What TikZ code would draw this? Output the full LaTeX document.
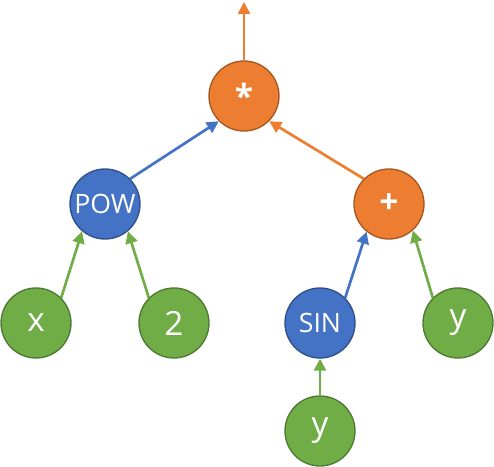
\documentclass[tikz,border=0pt]{standalone}
\usepackage{fontspec}
\setmainfont{Open Sans}
\usetikzlibrary{arrows.meta}
\definecolor{myorange}{HTML}{ED7D31}
\definecolor{myblue}{HTML}{4472C4}
\definecolor{mygreen}{HTML}{70AD47}
\tikzset{
  vtx/.style={circle,minimum size=52.5pt,inner sep=0pt,line width=1pt,text=white},
  opnode/.style={vtx,fill=myorange,draw=myorange!70!black,font=\fontsize{25}{25}\selectfont\bfseries},
  fnnode/.style={vtx,fill=myblue,draw=myblue!70!black,font=\fontsize{20}{20}\selectfont},
  leaf/.style={vtx,fill=mygreen,draw=mygreen!70!black,font=\fontsize{25}{25}\selectfont},
  edge/.style={line width=2pt,-{Triangle[length=9pt,width=9pt]}}
}
\begin{document}
\begin{tikzpicture}[x=0.75pt,y=-0.75pt]
\useasboundingbox (0,0) rectangle (494,467);
\node[opnode] (mult) at (244,96) {*};
\node[fnnode] (pow) at (105,204) {POW};
\node[opnode] (plus) at (389,204) {+};
\node[leaf] (x) at (36,323) {x};
\node[leaf] (two) at (174,323) {2};
\node[fnnode] (sin) at (320,323) {SIN};
\node[leaf] (y1) at (458,323) {y};
\node[leaf] (y2) at (320,431) {y};
\coordinate (out) at (244,2);
% edges
\draw[edge,myorange] (mult.90) -- (out);
\draw[edge,myblue] (pow.45) -- (mult.-135);
\draw[edge,myorange] (plus.135) -- (mult.-45);
\draw[edge,mygreen] (x.45) -- (pow.-130);
\draw[edge,mygreen] (two.135) -- (pow.-50);
\draw[edge,myblue] (sin.45) -- (plus.-129);
\draw[edge,mygreen] (y1.135) -- (plus.-48);
\draw[edge,mygreen] (y2.90) -- (sin.-90);
\end{tikzpicture}
\end{document}
